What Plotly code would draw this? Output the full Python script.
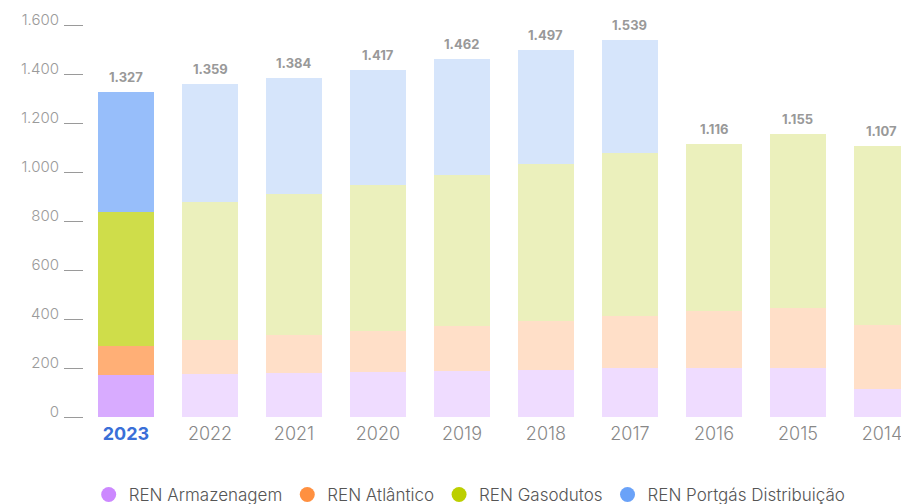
import plotly.graph_objects as go

years = ["2023", "2022", "2021", "2020", "2019", "2018", "2017", "2016", "2015", "2014"]
armazenagem = [170, 175, 179, 183, 187, 191, 200, 200, 200, 114]
atlantico = [122, 139, 157, 169, 184, 201, 214, 234, 246, 263]
gasodutos = [545, 564, 575, 596, 618, 640, 664, 682, 709, 730]
portgas = [490, 481, 473, 469, 473, 465, 461, 0, 0, 0]
totals = [1327, 1359, 1384, 1417, 1462, 1497, 1539, 1116, 1155, 1107]
series_names = ["REN Armazenagem", "REN Atlântico", "REN Gasodutos", "REN Portgás Distribuição"]
y_ticks = [0, 200, 400, 600, 800, 1000, 1200, 1400, 1600]

highlight = "2023"
strong = ["#d8abff", "#ffaf76", "#cfdd4a", "#97befa"]
pale = ["#efdcff", "#ffdfc8", "#ebf0bc", "#d6e5fb"]
legend_col = ["#cc88ff", "#ff9040", "#bccf00", "#6aa2f8"]

fig = go.Figure()
for i, vals in enumerate([armazenagem, atlantico, gasodutos, portgas]):
    cols = [strong[i] if y == highlight else pale[i] for y in years]
    fig.add_trace(go.Bar(x=years, y=vals, marker=dict(color=cols, line=dict(width=0)),
                         showlegend=False, hoverinfo="skip"))
for i, name in enumerate(series_names):
    fig.add_trace(go.Scatter(x=[None], y=[None], mode="markers", name=name,
                             marker=dict(symbol="circle", size=15, color=legend_col[i])))

def fmt(v):
    return f"{v:,}".replace(",", ".")

for idx, t in enumerate(totals):
    fig.add_annotation(x=idx, y=t, text=fmt(t), showarrow=False, yanchor="bottom", yshift=5,
                       font=dict(family="Inter, Roboto, sans-serif", size=13, color="#999999", weight="bold"))

ticktext = [f"<span style='color:#3a6fd8'><b>{y}</b></span>" if y == highlight else y for y in years]

fig.update_layout(
    width=909, height=496,
    barmode="stack", bargap=0.333,
    plot_bgcolor="white", paper_bgcolor="white",
    margin=dict(l=76, r=0, t=5, b=87, autoexpand=False),
    separators=",.",
    xaxis=dict(type="category", range=[-0.5, 9.417], tickvals=years, ticktext=ticktext,
               showgrid=False, zeroline=False, showline=False, ticks="", automargin=False,
               tickfont=dict(family="Inter, Roboto, sans-serif", size=18, color="#888888", weight=300),
               ticklabelstandoff=4),
    yaxis=dict(range=[0, 1650], tickvals=y_ticks, tickformat=",d", showgrid=False, zeroline=False,
               showline=False, ticks="outside", ticklen=19, tickwidth=1, tickcolor="#9a9a9a",
               automargin=False,
               tickfont=dict(family="Inter, Roboto, sans-serif", size=15, color="#9a9a9a", weight=300),
               ticklabelshift=-5, ticklabelstandoff=2),
    legend=dict(orientation="h", x=0.463, xanchor="center", y=-0.193, yanchor="middle",
                font=dict(family="Inter, Roboto, sans-serif", size=17, color="#555555", weight=300),
                itemwidth=30, traceorder="normal"),
)

fig.write_html("out.html")
